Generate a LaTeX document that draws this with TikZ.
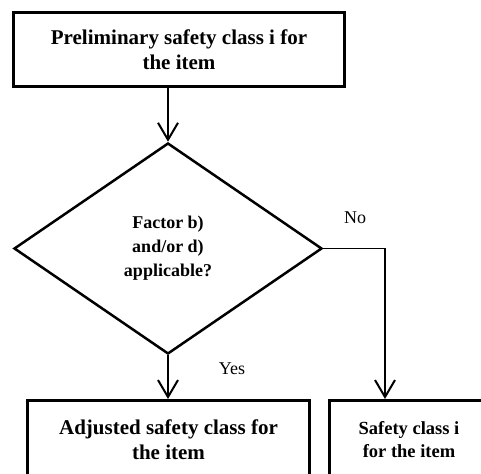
\documentclass[tikz,border=0pt]{standalone}
\usepackage{fontspec}
\setmainfont{Liberation Serif}
\usetikzlibrary{shapes.geometric,arrows.meta}
\tikzset{
  boxnode/.style={draw, line width=3pt, rectangle, inner sep=0pt, align=center,
    font=\fontsize{21}{25}\selectfont\bfseries},
  decnode/.style={draw, line width=2.5pt, diamond, inner sep=0pt, align=center,
    minimum width=308pt, minimum height=211pt, aspect=1.46,
    font=\fontsize{18}{24}\selectfont\bfseries},
  smallbox/.style={boxnode, font=\fontsize{18.5}{23}\selectfont\bfseries},
  conn/.style={line width=1.6pt, -{Straight Barb[length=17pt, width=20pt, line width=2pt]}},
  lbl/.style={font=\fontsize{18}{22}\selectfont, inner sep=0pt}
}
\begin{document}
\begin{tikzpicture}[x=1pt,y=-1pt]
\useasboundingbox (0,0) rectangle (481,473);
\clip (0,0) rectangle (481,473);
\node[boxnode, minimum width=331pt, minimum height=74pt] (top) at (179,49.5)
  {Preliminary safety class i for\\the item};
\node[decnode] (dia) at (168,248.5) {Factor b)\\and/or d)\\applicable?};
\node[boxnode, minimum width=282pt, minimum height=78pt] (adj) at (168.5,439.5)
  {Adjusted safety class for\\the item};
\node[smallbox, minimum width=159pt, minimum height=78pt] (cls) at (409,439.5)
  {Safety class i\\for the item};
\draw[conn] (top.south -| dia.north) -- (dia.north);
\draw[conn] (dia.south) -- (adj.north -| dia.south);
\draw[conn] (dia.east) -| ([xshift=-24pt]cls.north);
\node[lbl] (yes) at (232,369) {Yes};
\node[lbl] (no) at (355,218) {No};
\end{tikzpicture}
\end{document}
